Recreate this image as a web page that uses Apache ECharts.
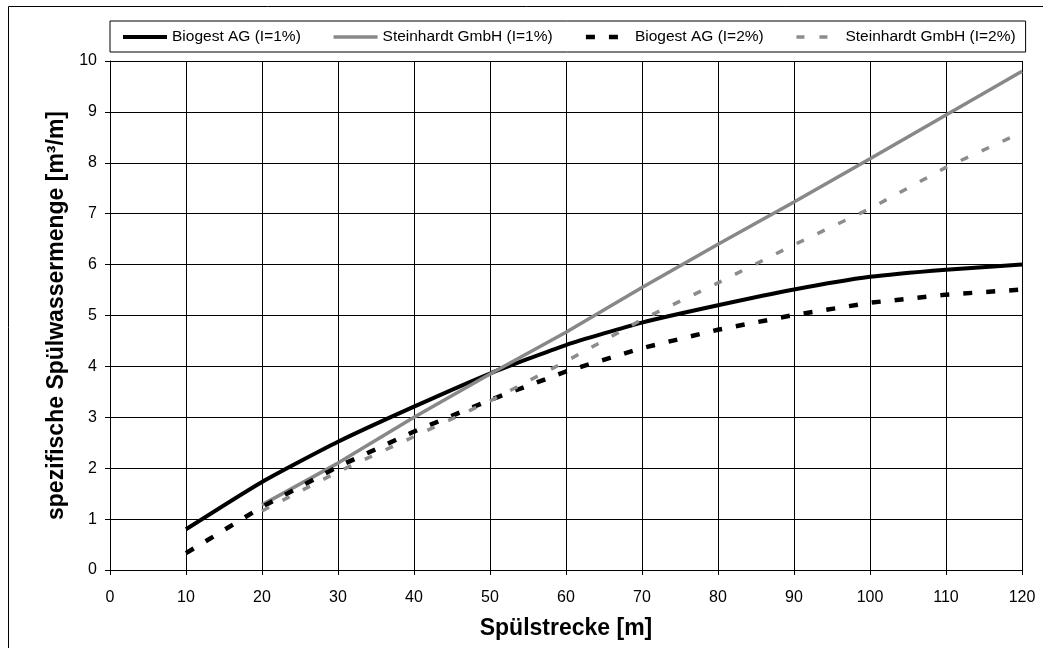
<!DOCTYPE html>
<html>
<head>
<meta charset="utf-8">
<script src="https://cdn.jsdelivr.net/npm/echarts@6/dist/echarts.min.js"></script>
<style>
  html, body { margin: 0; padding: 0; background: #fff; }
  #chart { width: 1043px; height: 648px; }
</style>
</head>
<body>
<div id="chart"></div>
<script>
const distances = [10, 20, 30, 40, 50, 60, 70, 80, 90, 100, 110, 120];
const biogest1 = [0.80, 1.73, 2.52, 3.21, 3.86, 4.42, 4.86, 5.20, 5.51, 5.76, 5.90, 6.00];
const steinhardt1 = [null, 1.28, 2.10, 3.00, 3.85, 4.67, 5.55, 6.40, 7.23, 8.08, 8.94, 9.80];
const biogest2 = [0.33, 1.24, 2.03, 2.72, 3.34, 3.90, 4.36, 4.72, 5.01, 5.25, 5.41, 5.51];
const steinhardt2 = [null, 1.16, 1.93, 2.62, 3.32, 4.10, 4.92, 5.64, 6.39, 7.10, 7.91, 8.60];

const FONT = "'Liberation Sans', Arial, sans-serif";

function pairs(values) {
  return distances.map((d, i) => [d, values[i]]).filter((p) => p[1] != null);
}

function lineSeries(name, values, color, width, dash, smooth) {
  return {
    name,
    type: "line",
    data: pairs(values),
    symbol: "none",
    smooth: smooth || false,
    lineStyle: { color, width, type: dash || "solid", cap: "butt" },
    itemStyle: { color },
  };
}

const chart = echarts.init(document.getElementById("chart"));
chart.setOption({
  animation: false,
  textStyle: { fontFamily: FONT },
  graphic: [
    {
      type: "rect",
      shape: { x: 8.5, y: 6.5, width: 1100, height: 700 },
      style: { fill: "none", stroke: "#000", lineWidth: 1 },
    },
  ],
  legend: {
    left: 110,
    top: 21,
    padding: [8, 10, 7, 11],
    borderColor: "#000",
    borderWidth: 1,
    itemWidth: 44,
    itemHeight: 14,
    itemGap: 31,
    // hide the circle marker, keep only the line sample
    itemStyle: { opacity: 0 },
    lineStyle: { width: "inherit" },
    textStyle: { fontSize: 15.5, color: "#000", fontFamily: FONT },
    data: ["Biogest AG (I=1%)", "Steinhardt GmbH (I=1%)", "Biogest AG (I=2%)", "Steinhardt GmbH (I=2%)"],
  },
  grid: { left: 110, right: 21, top: 61, bottom: 78 },
  xAxis: {
    type: "value",
    min: 0,
    max: 120,
    interval: 10,
    name: "Spülstrecke [m]",
    nameLocation: "middle",
    nameGap: 47,
    nameTextStyle: { fontSize: 23, fontWeight: "bold", color: "#000", fontFamily: FONT },
    axisLine: { lineStyle: { color: "#000", width: 1 } },
    axisTick: { show: true, length: 5, lineStyle: { color: "#000" } },
    axisLabel: { fontSize: 16, color: "#000", margin: 20 },
    splitLine: { show: true, lineStyle: { color: "#000", width: 1 } },
  },
  yAxis: {
    type: "value",
    min: 0,
    max: 10,
    interval: 1,
    name: "spezifische Spülwassermenge [m³/m]",
    nameLocation: "middle",
    nameGap: 42,
    nameTextStyle: { fontSize: 23, fontWeight: "bold", color: "#000", fontFamily: FONT },
    axisLine: { show: true, lineStyle: { color: "#000", width: 1 } },
    axisTick: { show: true, length: 5, lineStyle: { color: "#000" } },
    axisLabel: { fontSize: 16, color: "#000", margin: 13 },
    splitLine: { show: true, lineStyle: { color: "#000", width: 1 } },
  },
  series: [
    lineSeries("Biogest AG (I=1%)", biogest1, "#000", 4, null, 0.2),
    lineSeries("Steinhardt GmbH (I=1%)", steinhardt1, "#888", 3.5, null),
    lineSeries("Biogest AG (I=2%)", biogest2, "#000", 4.5, [9, 14]),
    lineSeries("Steinhardt GmbH (I=2%)", steinhardt2, "#8c8c8c", 3.5, [8, 15]),
  ],
});
</script>
</body>
</html>
